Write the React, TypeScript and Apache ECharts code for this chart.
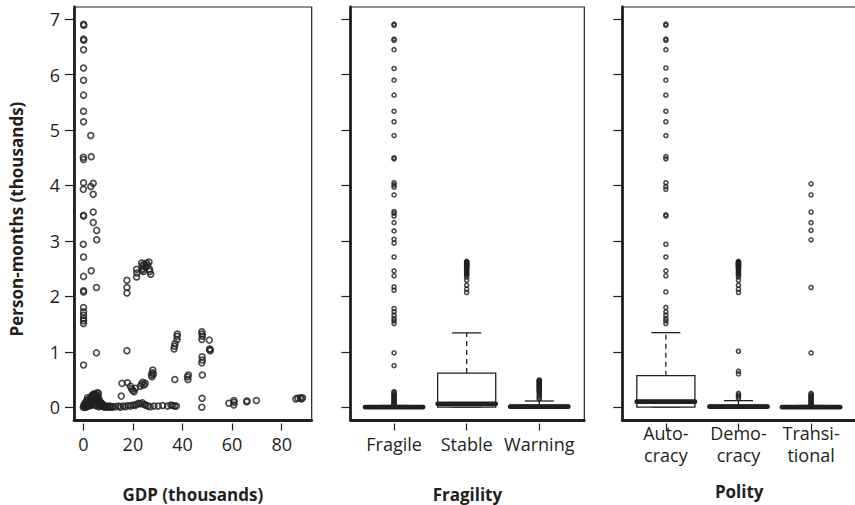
import React, { useEffect, useRef } from "react";
import * as echarts from "echarts";

// ---------------- data ----------------
const Y_TICKS = [0, 1, 2, 3, 4, 5, 6, 7];
const GDP_TICKS = [0, 20, 40, 60, 80];
const FRAGILITY_LABELS = ["Fragile", "Stable", "Warning"];
const POLITY_LABELS = ["Auto-\ncracy", "Demo-\ncracy", "Transi-\ntional"];

// [GDP (thousands), person-months (thousands)]
const GDP_POINTS: number[][] = [
  [0.1, 6.91], [0.2, 6.89], [0.1, 6.64], [0.2, 6.62], [0.1, 6.45], [0.1, 6.12], [0.1, 5.9],
  [0.1, 5.63], [0.1, 5.34], [0.1, 5.15], [0.0, 4.51], [0.1, 4.47], [0.1, 4.05], [0.0, 3.93],
  [0.1, 3.46], [0.1, 3.45], [0.0, 2.94], [0.1, 2.71], [0.1, 2.36], [0.1, 2.08], [0.1, 2.1],
  [0.1, 1.8], [0.1, 1.72], [0.1, 1.66], [0.1, 1.6], [0.1, 1.56], [0.1, 1.51], [0.1, 0.76],
  [3.0, 4.9], [3.2, 4.52], [4.0, 4.04], [3.0, 3.98], [4.0, 3.84], [4.0, 3.52], [4.0, 3.33],
  [5.4, 3.19], [5.4, 3.02], [3.2, 2.46], [5.3, 2.16], [5.3, 0.98],
  [17.6, 2.29], [17.6, 2.16], [17.6, 2.06], [21.5, 2.49], [21.6, 2.42], [21.5, 2.35],
  [23.5, 2.6], [23.8, 2.55], [24.0, 2.5], [24.5, 2.58], [25.0, 2.53], [25.5, 2.6],
  [26.0, 2.56], [26.5, 2.62], [26.8, 2.45], [27.2, 2.4], [26.7, 2.49], [24.2, 2.45], [23.6, 2.47],
  [17.6, 1.02], [15.6, 0.43], [15.3, 0.2], [17.8, 0.44], [19.0, 0.38], [19.5, 0.33],
  [20.0, 0.3], [20.5, 0.28], [21.0, 0.34], [23.0, 0.38], [23.5, 0.42], [24.0, 0.45],
  [24.5, 0.4], [25.0, 0.43], [27.7, 0.55], [27.8, 0.62], [28.0, 0.67], [28.3, 0.6], [27.5, 0.58],
  [36.9, 0.5], [36.6, 1.05], [36.8, 1.1], [37.0, 1.15], [37.8, 1.22], [37.8, 1.28], [37.9, 1.32],
  [42.0, 0.55], [42.2, 0.5], [42.4, 0.58],
  [47.8, 1.36], [47.9, 1.32], [48.0, 1.28], [47.8, 1.22], [47.9, 0.91], [48.0, 0.85],
  [47.8, 0.8], [48.0, 0.58], [47.9, 0.16], [47.8, 0.0],
  [50.8, 1.21], [51.0, 1.05], [51.2, 1.02], [51.0, 1.04],
  [58.7, 0.07], [60.7, 0.12], [60.8, 0.09], [60.7, 0.04], [65.9, 0.1], [66.0, 0.11], [69.8, 0.12],
  [85.7, 0.15], [86.5, 0.16], [87.5, 0.17], [88.4, 0.17], [88.0, 0.15],
  [0.0, 0.0], [0.3, 0.01], [0.6, 0.02], [0.9, 0.0], [1.2, 0.03], [1.5, 0.01], [1.8, 0.05],
  [2.1, 0.02], [2.4, 0.08], [2.7, 0.04], [3.0, 0.12], [3.2, 0.06], [3.4, 0.18], [3.6, 0.1],
  [3.8, 0.22], [4.0, 0.15], [4.2, 0.24], [4.4, 0.08], [4.6, 0.2], [4.8, 0.13], [5.0, 0.05],
  [5.2, 0.17], [5.4, 0.22], [5.6, 0.26], [5.8, 0.11], [6.0, 0.19], [6.2, 0.07], [6.4, 0.14],
  [6.6, 0.03], [6.8, 0.09], [7.0, 0.05], [7.3, 0.02], [7.6, 0.06], [8.0, 0.01], [8.4, 0.03],
  [8.8, 0.0], [9.2, 0.02], [9.6, 0.01], [10.0, 0.0], [10.5, 0.02], [11.0, 0.01], [11.5, 0.0],
  [12.0, 0.01], [0.5, 0.06], [1.0, 0.09], [1.4, 0.12], [2.0, 0.14], [2.5, 0.11], [2.9, 0.16],
  [3.5, 0.21], [4.1, 0.19], [4.9, 0.23], [5.5, 0.16], [6.1, 0.25], [6.5, 0.1], [7.1, 0.08],
  [1.7, 0.17], [0.2, 0.03], [0.8, 0.05], [2.2, 0.07], [3.1, 0.03], [4.5, 0.04], [5.3, 0.02], [6.3, 0.01],
  [13.0, 0.01], [14.2, 0.02], [15.0, 0.0], [16.1, 0.02], [17.0, 0.01], [18.0, 0.03], [19.0, 0.02],
  [20.0, 0.04], [20.8, 0.03], [21.5, 0.05], [22.2, 0.07], [23.0, 0.06], [23.8, 0.08], [24.5, 0.05],
  [25.2, 0.04], [26.0, 0.02], [27.0, 0.01], [28.5, 0.02], [30.2, 0.02], [32.0, 0.03], [34.0, 0.02],
  [35.3, 0.04], [36.0, 0.03], [36.8, 0.02], [37.5, 0.02],
];

// box stats: [low whisker, Q1, median, Q3, high whisker]
const FRAGILE_BOX = [0, 0, 0.003, 0.015, 0.03];
const STABLE_BOX = [0, 0, 0.06, 0.615, 1.34];
const WARNING_BOX = [0, 0, 0.01, 0.035, 0.112];
const AUTOCRACY_BOX = [0, 0, 0.1, 0.569, 1.345];
const DEMOCRACY_BOX = [0, 0, 0.01, 0.035, 0.118];
const TRANSITIONAL_BOX = [0, 0, 0.0, 0.012, 0.03];

const FRAGILE_OUTLIERS = [
  6.91, 6.89, 6.64, 6.62, 6.45, 6.11, 5.9, 5.63, 5.34, 5.15, 4.9, 4.5, 4.48, 4.05, 4.01, 3.97,
  3.83, 3.53, 3.5, 3.45, 3.33, 3.18, 3.03, 2.96, 2.71, 2.46, 2.37, 2.17, 2.11, 1.78, 1.72, 1.66,
  1.6, 1.56, 1.51, 0.98, 0.75, 0.28, 0.26, 0.24, 0.22, 0.2, 0.18, 0.16, 0.14, 0.12, 0.1, 0.08,
  0.06, 0.05, 0.04,
];
const STABLE_OUTLIERS = [
  2.63, 2.62, 2.61, 2.6, 2.59, 2.58, 2.57, 2.56, 2.55, 2.54, 2.53, 2.52, 2.5, 2.48, 2.46, 2.44,
  2.42, 2.4, 2.38, 2.35, 2.29, 2.2, 2.13, 2.07,
];
const WARNING_OUTLIERS = [
  0.49, 0.48, 0.47, 0.45, 0.44, 0.42, 0.41, 0.39, 0.38, 0.36, 0.35, 0.33, 0.32, 0.3, 0.28, 0.26,
  0.23, 0.2, 0.17, 0.15,
];
const AUTOCRACY_OUTLIERS = [
  6.91, 6.89, 6.64, 6.62, 6.45, 6.12, 5.9, 5.63, 5.34, 5.15, 4.9, 4.52, 4.48, 4.05, 3.98, 3.93,
  3.47, 3.45, 2.94, 2.71, 2.46, 2.37, 2.08, 1.8, 1.72, 1.66, 1.6, 1.56, 1.51,
];
const DEMOCRACY_OUTLIERS = [
  2.63, 2.62, 2.61, 2.6, 2.59, 2.58, 2.57, 2.56, 2.55, 2.54, 2.53, 2.52, 2.5, 2.48, 2.46, 2.44,
  2.42, 2.4, 2.38, 2.35, 2.29, 2.2, 2.13, 2.07, 1.01, 0.65, 0.6, 0.25, 0.22, 0.19, 0.16,
];
const TRANSITIONAL_OUTLIERS = [
  4.03, 3.83, 3.52, 3.33, 3.19, 3.02, 2.16, 0.98, 0.25, 0.23, 0.21, 0.19, 0.17, 0.15, 0.13,
  0.11, 0.09, 0.07, 0.05, 0.04,
];

// ---------------- styling ----------------
const INK = "#231f20";
const FONT = "'Open Sans', 'Noto Sans', sans-serif";
const Y_MIN = -0.231;
const Y_MAX = 7.22;
const GDP_MIN = -3.75;
const GDP_MAX = 92.1;
const CAT_MIN = 0.4;
const CAT_MAX = 3.62;
const BOX_WIDTH = 0.8;

function renderBox(_params: any, api: any) {
  const x = api.value(0);
  const pLow = api.coord([x, api.value(1)]);
  const pQ1 = api.coord([x, api.value(2)]);
  const pMed = api.coord([x, api.value(3)]);
  const pQ3 = api.coord([x, api.value(4)]);
  const pHigh = api.coord([x, api.value(5)]);
  const half = api.size([BOX_WIDTH, 0])[0] / 2;
  const cap = half / 2;
  const cx = pMed[0];
  const thin = { stroke: INK, lineWidth: 1.3 };
  const dashed = { stroke: INK, lineWidth: 1.3, lineDash: [5, 4] };
  return {
    type: "group",
    children: [
      { type: "line", shape: { x1: cx, y1: pQ3[1], x2: cx, y2: pHigh[1] }, style: dashed },
      { type: "line", shape: { x1: cx, y1: pQ1[1], x2: cx, y2: pLow[1] }, style: dashed },
      { type: "line", shape: { x1: cx - cap, y1: pHigh[1], x2: cx + cap, y2: pHigh[1] }, style: thin },
      { type: "line", shape: { x1: cx - cap, y1: pLow[1], x2: cx + cap, y2: pLow[1] }, style: thin },
      {
        type: "rect",
        shape: { x: cx - half, y: pQ3[1], width: 2 * half, height: pQ1[1] - pQ3[1] },
        style: { stroke: INK, lineWidth: 1.3, fill: "#ffffff" },
      },
      {
        type: "line",
        shape: { x1: cx - half, y1: pMed[1], x2: cx + half, y2: pMed[1] },
        style: { stroke: INK, lineWidth: 4.8, lineCap: "round" },
      },
    ],
  };
}

const frameX = (gridIndex: number, min: number, max: number) => ({
  type: "value",
  gridIndex,
  min,
  max,
  position: "bottom",
  axisLine: { show: true, onZero: false, lineStyle: { color: INK, width: 2.8 } },
  axisTick: { show: false },
  axisLabel: { show: false },
  splitLine: { show: false },
});

const tickX = (
  gridIndex: number,
  min: number,
  max: number,
  values: number[],
  formatter: (v: number) => string,
  margin: number
) => ({
  type: "value",
  gridIndex,
  min,
  max,
  position: "bottom",
  offset: 3.5,
  axisLine: { show: false, onZero: false },
  axisTick: { show: true, length: 7, customValues: values, lineStyle: { color: INK, width: 1.2 } },
  axisLabel: {
    show: true,
    customValues: values,
    formatter,
    margin,
    color: INK,
    fontSize: 18,
    fontFamily: FONT,
    lineHeight: 22,
  },
  splitLine: { show: false },
});

const yAx = (gridIndex: number, showLabels: boolean) => ({
  type: "value",
  gridIndex,
  min: Y_MIN,
  max: Y_MAX,
  position: "left",
  axisLine: { show: true, onZero: false, lineStyle: { color: INK, width: 2.8 } },
  axisTick: { show: true, length: 9, customValues: Y_TICKS, lineStyle: { color: INK, width: 1.2 } },
  axisLabel: {
    show: showLabels,
    customValues: Y_TICKS,
    margin: 14,
    color: INK,
    fontSize: 18,
    fontFamily: FONT,
  },
  splitLine: { show: false },
});

const gridBase = {
  top: 7,
  height: 413,
  show: true,
  borderColor: INK,
  borderWidth: 1.2,
  backgroundColor: "transparent",
  containLabel: false,
  outerBoundsMode: "none",
};

const outlierStyle = {
  color: "rgba(0,0,0,0)",
  borderColor: INK,
  borderWidth: 1.6,
};

export default function App() {
  const ref = useRef<HTMLDivElement>(null);

  useEffect(() => {
    if (!ref.current) return;
    const chart = echarts.init(ref.current, null, { renderer: "svg" });
    const fragilityBoxes = [FRAGILE_BOX, STABLE_BOX, WARNING_BOX].map((s, i) => [i + 1, ...s]);
    const polityBoxes = [AUTOCRACY_BOX, DEMOCRACY_BOX, TRANSITIONAL_BOX].map((s, i) => [i + 1, ...s]);
    const fragilityOut = [FRAGILE_OUTLIERS, STABLE_OUTLIERS, WARNING_OUTLIERS].flatMap((arr, i) =>
      arr.map((v) => [i + 1, v])
    );
    const polityOut = [AUTOCRACY_OUTLIERS, DEMOCRACY_OUTLIERS, TRANSITIONAL_OUTLIERS].flatMap((arr, i) =>
      arr.map((v) => [i + 1, v])
    );

    const titleStyle = (text: string) => ({
      text,
      font: `bold 17px ${FONT}`,
      fill: INK,
      align: "center",
      verticalAlign: "middle",
      textAlign: "center",
      textVerticalAlign: "middle",
    });

    const option: any = {
      animation: false,
      backgroundColor: "#ffffff",
      textStyle: { fontFamily: FONT, color: INK },
      grid: [
        { ...gridBase, left: 74, width: 237.7 },
        { ...gridBase, left: 350.5, width: 233.8 },
        { ...gridBase, left: 622.3, width: 233.8 },
      ],
      xAxis: [
        frameX(0, GDP_MIN, GDP_MAX),
        tickX(0, GDP_MIN, GDP_MAX, GDP_TICKS, (v: number) => String(v), 9),
        frameX(1, CAT_MIN, CAT_MAX),
        tickX(1, CAT_MIN, CAT_MAX, [1, 2, 3], (v: number) => FRAGILITY_LABELS[Math.round(v) - 1] ?? "", 9),
        frameX(2, CAT_MIN, CAT_MAX),
        tickX(2, CAT_MIN, CAT_MAX, [1, 2, 3], (v: number) => POLITY_LABELS[Math.round(v) - 1] ?? "", -2),
      ],
      yAxis: [yAx(0, true), yAx(1, false), yAx(2, false)],
      graphic: [
        { type: "text", x: 16, y: 219, rotation: Math.PI / 2, style: titleStyle("Person-months (thousands)") },
        { type: "text", x: 192.8, y: 494, style: titleStyle("GDP (thousands)") },
        { type: "text", x: 467.4, y: 494, style: titleStyle("Fragility") },
        { type: "text", x: 739.2, y: 491, style: titleStyle("Polity") },
      ],
      series: [
        {
          type: "scatter",
          xAxisIndex: 0,
          yAxisIndex: 0,
          data: GDP_POINTS,
          symbol: "circle",
          symbolSize: 5.8,
          itemStyle: { ...outlierStyle, borderWidth: 1.7 },
          emphasis: { disabled: true },
        },
        {
          type: "custom",
          xAxisIndex: 2,
          yAxisIndex: 1,
          data: fragilityBoxes,
          encode: { x: 0, y: [1, 2, 3, 4, 5] },
          renderItem: renderBox,
          z: 2,
        },
        {
          type: "scatter",
          xAxisIndex: 2,
          yAxisIndex: 1,
          data: fragilityOut,
          symbol: "circle",
          symbolSize: 4,
          itemStyle: outlierStyle,
          emphasis: { disabled: true },
          z: 3,
        },
        {
          type: "custom",
          xAxisIndex: 4,
          yAxisIndex: 2,
          data: polityBoxes,
          encode: { x: 0, y: [1, 2, 3, 4, 5] },
          renderItem: renderBox,
          z: 2,
        },
        {
          type: "scatter",
          xAxisIndex: 4,
          yAxisIndex: 2,
          data: polityOut,
          symbol: "circle",
          symbolSize: 4,
          itemStyle: outlierStyle,
          emphasis: { disabled: true },
          z: 3,
        },
      ],
    };
    chart.setOption(option);
    return () => chart.dispose();
  }, []);

  return (
    <div
      style={{
        position: "absolute",
        left: 0,
        top: 0,
        width: 855,
        height: 505,
        overflow: "hidden",
        background: "#ffffff",
      }}
    >
      <div ref={ref} style={{ width: 857, height: 505 }} />
    </div>
  );
}
